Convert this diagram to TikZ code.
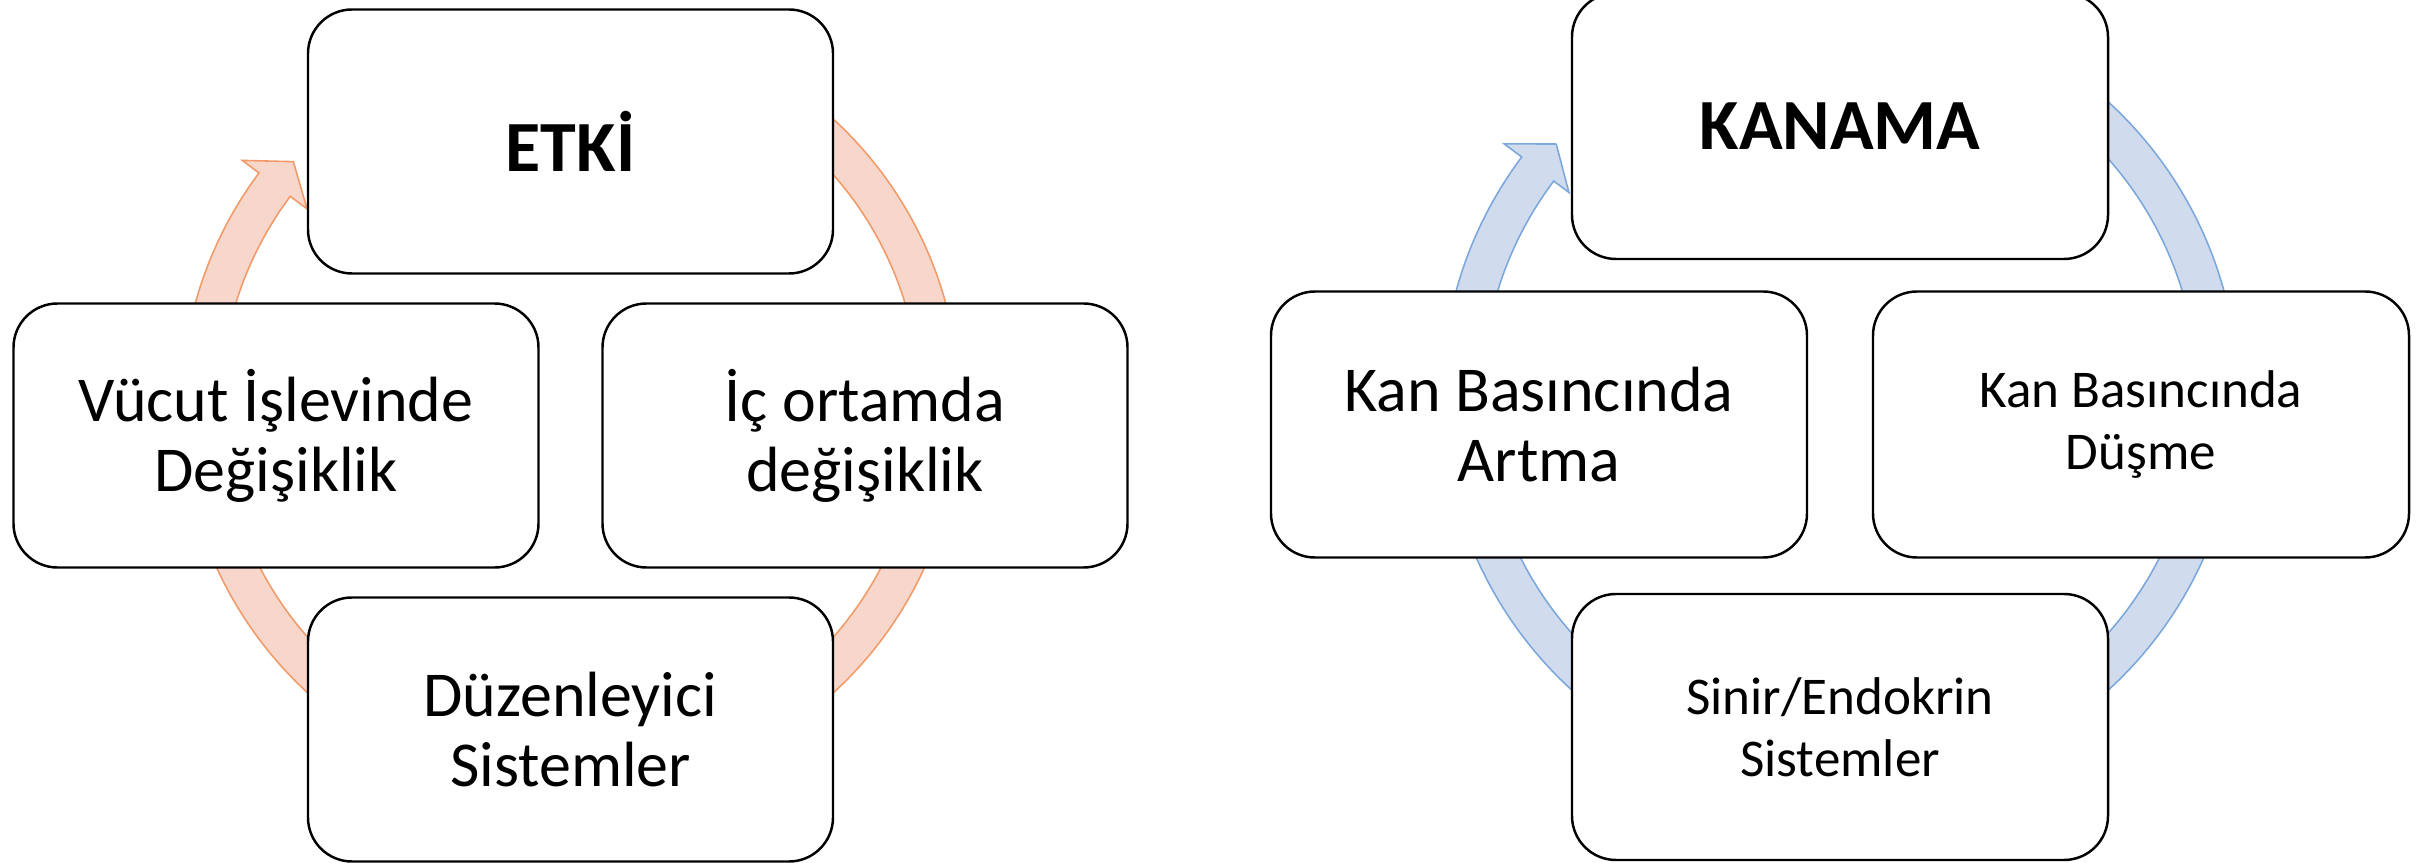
\documentclass[tikz,border=0pt]{standalone}
\usepackage{fontspec}
\setmainfont{Carlito}
\usepackage{tikz}
\usetikzlibrary{calc}
\definecolor{ringorange}{RGB}{241,155,105}
\definecolor{fillorange}{RGB}{247,215,203}
\definecolor{ringblue}{RGB}{124,168,220}
\definecolor{fillblue}{RGB}{208,220,238}
\tikzset{
  cyclebox/.style={rectangle, draw=black, fill=white, align=center,
    rounded corners=0.44cm, line width=0.7pt, inner sep=2pt},
  leftbox/.style={cyclebox, minimum width=5.25cm, minimum height=2.64cm},
  rightbox/.style={cyclebox, minimum width=5.36cm, minimum height=2.66cm},
  orangering/.style={fill=fillorange, draw=ringorange, line width=0.45pt},
  bluering/.style={fill=fillblue, draw=ringblue, line width=0.45pt},
  headfont/.style={font=\fontsize{20.5}{24}\selectfont\bfseries},
  bigfont/.style={font=\fontsize{18.2}{19.9}\selectfont},
  smallfont/.style={font=\fontsize{15.1}{17.6}\selectfont}
}

\begin{document}
\begin{tikzpicture}
  \useasboundingbox (0,0) rectangle (24.27,8.63);

  % Cycle ring behind the left boxes
  \coordinate (ringL) at (5.705,4.57);
  \filldraw[orangering] ([shift={(80:3.89)}]ringL) arc[start angle=80, end angle=-216.8, radius=3.89]
    -- ([shift={(-216.8:4.10)}]ringL) -- ([shift={(-221.4:3.695)}]ringL)
    -- ([shift={(-216.8:3.29)}]ringL) -- ([shift={(-216.8:3.50)}]ringL)
    arc[start angle=-216.8, end angle=80, radius=3.50] -- cycle;

  % Left cycle
  \node[leftbox, headfont] (etki) at (5.705,7.215) {ETKİ};
  \node[leftbox, bigfont] (vucut) at (2.76,4.275) {Vücut İşlevinde\\Değişiklik};
  \node[leftbox, bigfont] (icortam) at (8.65,4.275) {İç ortamda\\değişiklik};
  \node[leftbox, bigfont] (duzen) at (5.705,1.335) {Düzenleyici\\Sistemler};

  % Cycle ring behind the right boxes
  \coordinate (ringR) at (18.40,4.67);
  \filldraw[bluering] ([shift={(80:3.98)}]ringR) arc[start angle=80, end angle=-216.9, radius=3.98]
    -- ([shift={(-216.9:4.20)}]ringR) -- ([shift={(-221.6:3.795)}]ringR)
    -- ([shift={(-216.9:3.39)}]ringR) -- ([shift={(-216.9:3.58)}]ringR)
    arc[start angle=-216.9, end angle=80, radius=3.58] -- cycle;

  % Right cycle
  \node[rightbox, headfont] (kanama) at (18.40,7.37) {KANAMA};
  \node[rightbox, bigfont] (artma) at (15.39,4.385) {Kan Basıncında\\Artma};
  \node[rightbox, smallfont] (dusme) at (21.41,4.385) {Kan Basıncında\\Düşme};
  \node[rightbox, smallfont] (sinir) at (18.40,1.36) {Sinir/Endokrin\\Sistemler};
\end{tikzpicture}
\end{document}
